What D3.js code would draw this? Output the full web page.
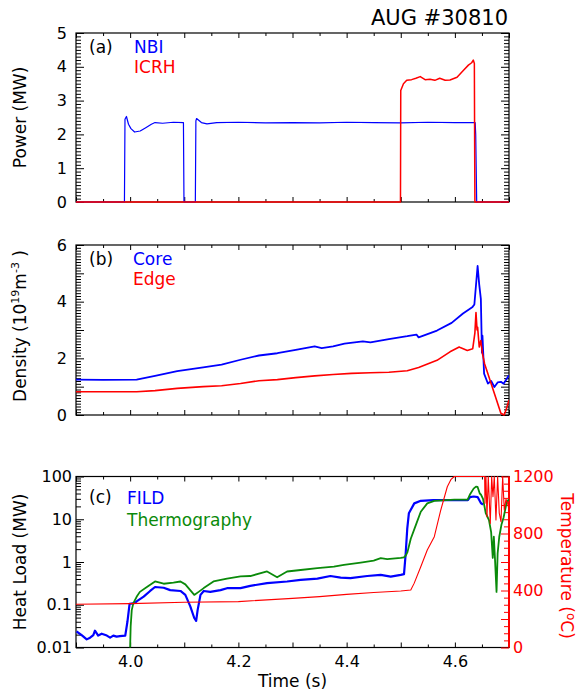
<!DOCTYPE html>
<html>
<head>
<meta charset="utf-8">
<script src="https://cdn.jsdelivr.net/npm/d3@7"></script>
<style>
  body { margin: 0; background: #fff; }
  svg { font-family: "DejaVu Sans", Verdana, sans-serif; }
</style>
</head>
<body>
<div id="app"></div>
<script>
const d3 = window.d3;

// panel (a): heating power, [time s, MW]
const nbi = [
  [3.9, 0], [3.9895, 0], [3.9905, 2.45], [3.9932, 2.53], [3.997, 2.3], [4.0015, 2.17],
  [4.0083, 2.07], [4.0186, 2.1], [4.0289, 2.2], [4.0392, 2.3], [4.046, 2.35], [4.06, 2.33],
  [4.08, 2.36], [4.0985, 2.35], [4.0995, 0], [4.1205, 0], [4.1215, 2.4], [4.1228, 2.47],
  [4.1317, 2.35], [4.142, 2.31], [4.16, 2.35], [4.2, 2.36], [4.25, 2.34], [4.3, 2.35],
  [4.35, 2.34], [4.4, 2.36], [4.45, 2.35], [4.5, 2.34], [4.55, 2.36], [4.6, 2.35],
  [4.6375, 2.35], [4.6385, 2.0], [4.6403, 0], [4.7, 0]
];
const icrh = [
  [3.9, 0], [4.4995, 0], [4.5, 3.3], [4.505, 3.5], [4.511, 3.6], [4.52, 3.62], [4.528, 3.66],
  [4.536, 3.71], [4.545, 3.62], [4.554, 3.63], [4.563, 3.6], [4.572, 3.66], [4.582, 3.6],
  [4.591, 3.61], [4.604, 3.69], [4.616, 3.9], [4.625, 4.05], [4.631, 4.12], [4.634, 4.2],
  [4.636, 4.1], [4.6365, 1.8], [4.637, 0], [4.7, 0]
];

// panel (b): density, [time s, 1e19 m^-3]
const core = [
  [3.9, 1.25], [3.95, 1.24], [4.012, 1.25], [4.046, 1.38], [4.087, 1.55], [4.135, 1.68],
  [4.169, 1.78], [4.204, 1.95], [4.238, 2.1], [4.272, 2.18], [4.306, 2.3], [4.341, 2.42],
  [4.354, 2.36], [4.375, 2.42], [4.396, 2.52], [4.43, 2.6], [4.444, 2.56], [4.478, 2.68],
  [4.512, 2.78], [4.529, 2.84], [4.533, 2.74], [4.567, 2.98], [4.594, 3.25], [4.615, 3.58],
  [4.632, 3.8], [4.636, 3.9], [4.642, 5.26], [4.645, 4.6], [4.648, 4.1], [4.65, 2.2],
  [4.651, 2.8], [4.654, 1.46], [4.661, 1.11], [4.667, 1.2], [4.673, 0.99], [4.679, 1.15],
  [4.685, 1.17], [4.69, 1.1], [4.695, 1.25], [4.7, 1.4]
];
const edge = [
  [3.9, 0.82], [4.012, 0.82], [4.046, 0.86], [4.087, 0.94], [4.135, 1.0], [4.169, 1.03],
  [4.204, 1.11], [4.238, 1.21], [4.272, 1.25], [4.306, 1.32], [4.341, 1.38], [4.375, 1.43],
  [4.409, 1.47], [4.444, 1.49], [4.478, 1.51], [4.512, 1.56], [4.533, 1.68], [4.567, 1.93],
  [4.591, 2.23], [4.608, 2.4], [4.611, 2.37], [4.623, 2.28], [4.633, 2.34], [4.637, 2.9],
  [4.639, 3.62], [4.641, 3.0], [4.642, 3.1], [4.645, 2.4], [4.648, 2.63], [4.651, 2.16],
  [4.655, 1.8], [4.661, 1.46], [4.673, 0.76], [4.685, 0.06], [4.691, 0.0], [4.695, 0.2],
  [4.7, 0.53]
];

// panel (c): heat load [time s, MW] and temperature [time s, degC]
const fild = [
  [3.901, 0.0237], [3.9105, 0.0195], [3.9198, 0.0155], [3.926, 0.017], [3.932, 0.0195],
  [3.935, 0.0247], [3.941, 0.019], [3.9475, 0.021], [3.957, 0.019], [3.963, 0.017],
  [3.969, 0.019], [3.975, 0.018], [3.981, 0.0185], [3.991, 0.019], [3.995, 0.04],
  [3.999, 0.105], [4.009, 0.11], [4.012, 0.12], [4.025, 0.155], [4.037, 0.21], [4.046, 0.26],
  [4.062, 0.25], [4.074, 0.22], [4.093, 0.21], [4.102, 0.17], [4.111, 0.093], [4.1185, 0.049],
  [4.122, 0.042], [4.1247, 0.075], [4.13, 0.17], [4.136, 0.21], [4.148, 0.2], [4.167, 0.22],
  [4.179, 0.244], [4.204, 0.245], [4.222, 0.277], [4.253, 0.32], [4.29, 0.35], [4.315, 0.38],
  [4.346, 0.41], [4.37, 0.47], [4.389, 0.43], [4.407, 0.42], [4.438, 0.47], [4.463, 0.5],
  [4.4815, 0.456], [4.5, 0.5], [4.506, 0.52], [4.509, 1.5], [4.512, 6], [4.515, 13.8],
  [4.525, 23.5], [4.537, 27], [4.56, 28], [4.6, 28], [4.624, 28], [4.628, 33], [4.635, 34],
  [4.642, 33], [4.648, 24], [4.652, 22]
];
const thermo = [
  [4.0, 0.01], [4.001, 0.031], [4.003, 0.075], [4.006, 0.109], [4.012, 0.153], [4.018, 0.2],
  [4.031, 0.26], [4.046, 0.35], [4.062, 0.31], [4.08, 0.33], [4.093, 0.35], [4.102, 0.3],
  [4.111, 0.22], [4.1185, 0.17], [4.1265, 0.2], [4.136, 0.245], [4.154, 0.35], [4.179, 0.41],
  [4.204, 0.46], [4.222, 0.47], [4.253, 0.6], [4.2716, 0.44], [4.29, 0.6], [4.315, 0.65],
  [4.346, 0.72], [4.3765, 0.78], [4.395, 0.86], [4.426, 0.97], [4.45, 1.08], [4.463, 1.23],
  [4.475, 1.17], [4.5, 1.25], [4.506, 1.29], [4.509, 1.4], [4.5124, 1.7], [4.5185, 3.5],
  [4.528, 7.4], [4.537, 15], [4.549, 23.5], [4.562, 27], [4.599, 28.7], [4.6235, 28.7],
  [4.6284, 39], [4.6346, 52], [4.639, 58], [4.642, 57], [4.646, 40], [4.648, 38], [4.652, 30],
  [4.657, 14], [4.663, 9.6], [4.667, 5], [4.67, 1.25], [4.672, 3.9], [4.674, 1.25],
  [4.677, 0.2], [4.679, 1.6], [4.682, 3.9], [4.686, 7.4], [4.69, 11], [4.696, 25.7], [4.7, 29]
];
const temperature = [
  [3.9, 303], [4.0, 308], [4.1, 318], [4.2, 322], [4.3, 345], [4.35, 357], [4.4, 373],
  [4.45, 386], [4.5, 396], [4.5185, 403], [4.5247, 450], [4.537, 567], [4.549, 684],
  [4.562, 778], [4.574, 965], [4.586, 1128], [4.593, 1180], [4.599, 1200], [4.655, 1200],
  [4.6556, 1012], [4.6574, 1200], [4.6593, 918], [4.6617, 1200], [4.6654, 871], [4.668, 1200],
  [4.6704, 1058], [4.6728, 1200], [4.6759, 895], [4.679, 1200], [4.682, 943], [4.6852, 883],
  [4.6883, 1200], [4.6913, 965], [4.6944, 1040], [4.6975, 1012], [4.7, 965]
];

const timeLabels = [4.0, 4.2, 4.4, 4.6];
const powerLabels = [0, 1, 2, 3, 4, 5];
const densityLabels = [0, 2, 4, 6];
const heatLabels = [0.01, 0.1, 1, 10, 100];
const tempLabels = [0, 400, 800, 1200];

const blue = "#0000ff", red = "#ff0000", green = "#0a8a0a";
const left = 76, right = 509;

const x = d3.scaleLinear().domain([3.9, 4.7]).range([left, right]);
const yPower = d3.scaleLinear().domain([0, 5]).range([202, 33]);
const yDens = d3.scaleLinear().domain([0, 6]).range([415, 245]);
const yHeat = d3.scaleLog().domain([0.01, 100]).range([647.5, 476.5]);
const yTemp = d3.scaleLinear().domain([0, 1200]).range([647.5, 476.5]);

const svg = d3.create("svg").attr("width", 582).attr("height", 694);

const xMajor = d3.range(39, 48).map((d) => d / 10);
const xMinor = d3.range(39, 47).map((d) => d / 10 + 0.05);
const logMinor = [0.01, 0.1, 1, 10].flatMap((d) => d3.range(2, 10).map((k) => d * k));

const tickLayer = (axis, values, size, transform, fmt, pad, color) => {
  const g = svg
    .append("g")
    .attr("transform", transform)
    .call(
      axis
        .tickValues(values)
        .tickSize(-size)
        .tickSizeOuter(0)
        .tickPadding(pad || 4)
        .tickFormat(fmt || (() => ""))
    );
  g.select(".domain").remove();
  g.selectAll("line").attr("stroke", color || "#000");
  g.selectAll("text")
    .attr("fill", color || "#000")
    .style("font-size", "16px")
    .style("font-family", "'DejaVu Sans', Verdana, sans-serif");
  return g;
};

const panel = (y, top, bottom, yTicks) => {
  tickLayer(d3.axisBottom(x), xMajor, 5, `translate(0,${bottom})`);
  tickLayer(d3.axisBottom(x), xMinor, 3, `translate(0,${bottom})`);
  tickLayer(d3.axisTop(x), xMajor, 5, `translate(0,${top})`);
  tickLayer(d3.axisTop(x), xMinor, 3, `translate(0,${top})`);
  yTicks.forEach((t) => {
    tickLayer(d3.axisLeft(y), t.values, t.size, `translate(${left},0)`, t.fmt, t.pad);
    if (!t.noRight) tickLayer(d3.axisRight(y), t.values, t.size, `translate(${right},0)`);
  });
  svg
    .append("rect")
    .attr("x", left)
    .attr("y", top)
    .attr("width", right - left)
    .attr("height", bottom - top)
    .attr("fill", "none")
    .attr("stroke", "#000")
    .attr("stroke-width", 1.2);
};

const draw = (data, y, color, width, clip) => {
  svg
    .append("path")
    .datum(data)
    .attr("clip-path", clip ? `url(#${clip})` : null)
    .attr("fill", "none")
    .attr("stroke", color)
    .attr("stroke-width", width)
    .attr("stroke-linejoin", "round")
    .attr("d", d3.line().x((d) => x(d[0])).y((d) => y(d[1])));
};

const clipRect = (id, top, bottom) => {
  svg
    .append("clipPath")
    .attr("id", id)
    .append("rect")
    .attr("x", left)
    .attr("y", top - 1)
    .attr("width", right - left)
    .attr("height", bottom - top + 2);
};
clipRect("clipA", 33, 202);
clipRect("clipB", 245, 415);
clipRect("clipC", 476.5, 647.5);

const label = (txt, xPos, yPos, color, size, anchor) =>
  svg
    .append("text")
    .attr("x", xPos)
    .attr("y", yPos)
    .attr("fill", color || "#000")
    .attr("text-anchor", anchor || "start")
    .style("font-size", (size || 17) + "px")
    .text(txt);

// (a) power
panel(yPower, 33, 202, [
  { values: powerLabels, size: 8, fmt: d3.format("d"), pad: 9 },
  { values: d3.range(0, 50).filter((d) => d % 10).map((d) => d / 10), size: 5 },
]);
draw(nbi, yPower, blue, 1.2, "clipA");
draw(icrh, yPower, red, 1.5, "clipA");

// (b) density
panel(yDens, 245, 415, [
  { values: d3.range(0, 7), size: 8, fmt: (d) => (densityLabels.includes(d) ? d : ""), pad: 9 },
  { values: d3.range(0, 60).filter((d) => d % 10).map((d) => d / 10), size: 5 },
]);
draw(core, yDens, blue, 1.8, "clipB");
draw(edge, yDens, red, 1.6, "clipB");

// (c) heat load and temperature
panel(yHeat, 476.5, 647.5, [
  { values: heatLabels, size: 8, fmt: (d) => (d < 1 ? d3.format(".2~f")(d) : d3.format("d")(d)), pad: 4, noRight: true },
  { values: logMinor, size: 5, noRight: true },
]);
tickLayer(d3.axisRight(yTemp), d3.range(0, 1201, 200), 8, `translate(${right},0)`,
  (d) => (tempLabels.includes(d) ? d : ""), 4, red);
tickLayer(d3.axisRight(yTemp), d3.range(50, 1200, 50).filter((d) => d % 200), 5,
  `translate(${right},0)`, null, 4, red);
svg
  .append("line")
  .attr("x1", right)
  .attr("x2", right)
  .attr("y1", 476.5)
  .attr("y2", 647.5)
  .attr("stroke", red)
  .attr("stroke-width", 2);
draw(fild, yHeat, blue, 2.2, "clipC");
draw(thermo, yHeat, green, 1.8, "clipC");
draw(temperature, yTemp, red, 1.1, "clipC");

tickLayer(d3.axisBottom(x), timeLabels, 0, "translate(0,647.5)", d3.format(".1f"), 8);

// titles and legends
label("AUG #30810", 508, 25, "#000", 21, "end");

label("(a)", 89, 53);
label("NBI", 134, 53, blue);
label("ICRH", 134, 73, red);
label("(b)", 89, 265);
label("Core", 133, 265, blue);
label("Edge", 133, 285, red);
label("(c)", 89, 503);
label("FILD", 127, 504, blue);
label("Thermography", 127, 526, green);

label("Time (s)", (left + right) / 2, 687, "#000", 17, "middle");

const rotated = (xPos, yPos, angle, color) =>
  svg
    .append("text")
    .attr("transform", `translate(${xPos},${yPos}) rotate(${angle})`)
    .attr("text-anchor", "middle")
    .attr("fill", color || "#000")
    .style("font-size", "17px");

rotated(26, 117.5, -90).text("Power (MW)");

const dens = rotated(26, 326, -90);
dens.append("tspan").text("Density (10");
dens.append("tspan").attr("dy", -7).style("font-size", "11px").text("19");
dens.append("tspan").attr("dy", 7).text("m");
dens.append("tspan").attr("dy", -7).style("font-size", "11px").text("-3");
dens.append("tspan").attr("dy", 7).text(" )");

rotated(26, 562, -90).text("Heat Load (MW)");

const temp = rotated(561, 566, 90, red);
temp.append("tspan").text("Temperature (");
temp.append("tspan").attr("dy", -6).style("font-size", "12px").text("o");
temp.append("tspan").attr("dy", 6).text("C)");

document.getElementById("app").append(svg.node());
</script>
</body>
</html>
